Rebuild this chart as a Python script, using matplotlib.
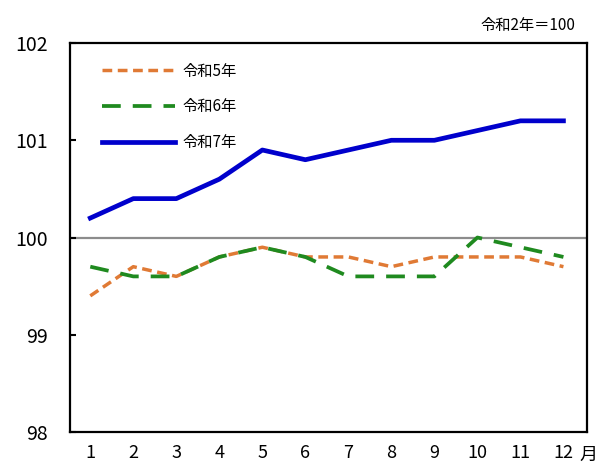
#!/usr/bin/env python3
# cpi_monthly.py

import matplotlib
matplotlib.use("Agg")
import matplotlib.pyplot as plt

plt.rcParams['font.family'] = ['Noto Sans CJK JP', 'DejaVu Sans']

months = [1, 2, 3, 4, 5, 6, 7, 8, 9, 10, 11, 12]
month_labels = ["1", "2", "3", "4", "5", "6", "7", "8", "9", "10", "11", "12"]
r5 = [99.4, 99.7, 99.6, 99.8, 99.9, 99.8, 99.8, 99.7, 99.8, 99.8, 99.8, 99.7]
r6 = [99.7, 99.6, 99.6, 99.8, 99.9, 99.8, 99.6, 99.6, 99.6, 100.0, 99.9, 99.8]
r7 = [100.2, 100.4, 100.4, 100.6, 100.9, 100.8, 100.9, 101.0, 101.0, 101.1,
      101.2, 101.2]
y_ticks = [98, 99, 100, 101, 102]


def plot(ax):
    ax.axhline(100, color='#8c8c8c', linewidth=1.6, zorder=1)
    ax.plot(months, r5, color='#e07a35', linewidth=2.5,
            dashes=(2.8, 1.6), label="令和5年")
    ax.plot(months, r6, color='#1f8a1f', linewidth=2.7,
            dashes=(5.0, 3.2), label="令和6年")
    ax.plot(months, r7, color='#0000cc', linewidth=3.4, label="令和7年")

    ax.set_xlim(0.53, 12.55)
    ax.set_ylim(98, 102)
    ax.set_yticks(y_ticks)
    ax.set_yticklabels([str(v) for v in y_ticks], fontsize=14)
    ax.set_xticks(months)
    ax.set_xticklabels(month_labels, fontsize=13)
    ax.tick_params(axis='x', length=0, pad=9)
    ax.tick_params(axis='y', direction='in', length=4, width=1.5, pad=16)
    for s in ax.spines.values():
        s.set_linewidth(1.6)

    ax.text(0.977, 1.046, "令和2年＝100", transform=ax.transAxes,
            ha='right', va='center', fontsize=11)
    ax.text(12.38, -0.058, "月", transform=ax.get_xaxis_transform(),
            ha='left', va='center', fontsize=13)

    ax.legend(loc='upper left', bbox_to_anchor=(0.035, 0.985), frameon=False,
              fontsize=11, handlelength=4.8, handletextpad=0.5,
              labelspacing=1.22)


def main():
    fig = plt.figure(figsize=(6.04, 4.68), dpi=100)
    ax = fig.add_axes([0.116, 0.077, 0.856, 0.831])
    plot(ax)
    fig.savefig("out.png", dpi=100)


if __name__ == "__main__":
    main()
